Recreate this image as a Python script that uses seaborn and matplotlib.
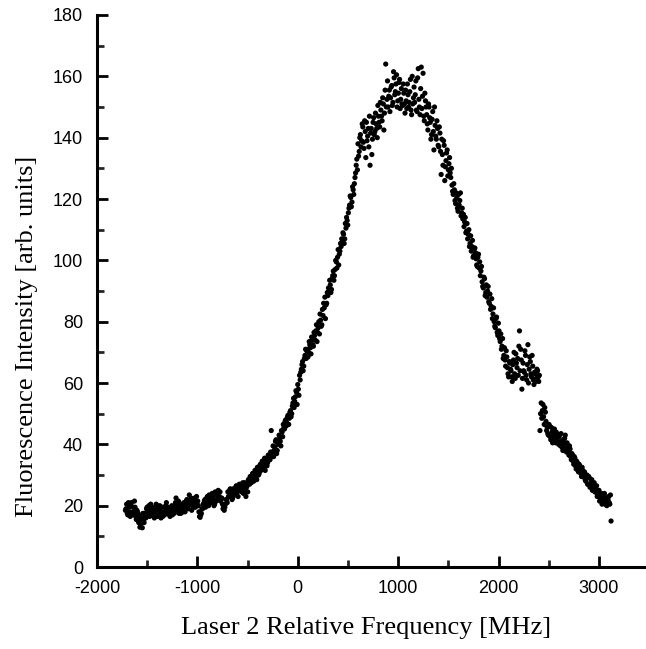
import matplotlib
matplotlib.use("Agg")
import matplotlib.pyplot as plt
import seaborn as sns
import pandas as pd
from matplotlib.ticker import MultipleLocator

# sweep 1
freq_mhz = [
    -1716, -1704, -1692, -1680, -1668, -1656, -1644, -1632, -1620, -1608,
    -1596, -1584, -1572, -1560, -1548, -1536, -1524, -1512, -1500, -1488,
    -1476, -1464, -1452, -1440, -1428, -1416, -1404, -1392, -1380, -1368,
    -1356, -1344, -1332, -1320, -1308, -1296, -1284, -1272, -1260, -1248,
    -1236, -1224, -1212, -1200, -1188, -1176, -1164, -1152, -1140, -1128,
    -1116, -1104, -1092, -1080, -1068, -1056, -1044, -1032, -1020, -1008,
    -996, -984, -972, -960, -948, -936, -924, -912, -900, -888,
    -876, -864, -852, -840, -828, -816, -804, -792, -780, -768,
    -756, -744, -732, -720, -708, -696, -684, -672, -660, -648,
    -636, -624, -612, -600, -588, -576, -564, -552, -540, -528,
    -516, -504, -492, -480, -468, -456, -444, -432, -420, -408,
    -396, -384, -372, -360, -348, -336, -324, -312, -300, -288,
    -276, -264, -252, -240, -228, -216, -204, -192, -180, -168,
    -156, -144, -132, -120, -108, -96, -84, -72, -60, -48,
    -36, -24, -12, 0, 12, 24, 36, 48, 60, 72,
    84, 96, 108, 120, 132, 144, 156, 168, 180, 192,
    204, 216, 228, 240, 252, 264, 276, 288, 300, 312,
    324, 336, 348, 360, 372, 384, 396, 408, 420, 432,
    444, 456, 468, 480, 492, 504, 516, 528, 540, 552,
    564, 576, 588, 600, 612, 624, 636, 648, 660, 672,
    684, 696, 708, 720, 732, 744, 756, 768, 780, 792,
    804, 816, 828, 840, 852, 864, 876, 888, 900, 912,
    924, 936, 948, 960, 972, 984, 996, 1008, 1020, 1032,
    1044, 1056, 1068, 1080, 1092, 1104, 1116, 1128, 1140, 1152,
    1164, 1176, 1188, 1200, 1212, 1224, 1236, 1248, 1260, 1272,
    1284, 1296, 1308, 1320, 1332, 1344, 1356, 1368, 1380, 1392,
    1404, 1416, 1428, 1440, 1452, 1464, 1476, 1488, 1500, 1512,
    1524, 1536, 1548, 1560, 1572, 1584, 1596, 1608, 1620, 1632,
    1644, 1656, 1668, 1680, 1692, 1704, 1716, 1728, 1740, 1752,
    1764, 1776, 1788, 1800, 1812, 1824, 1836, 1848, 1860, 1872,
    1884, 1896, 1908, 1920, 1932, 1944, 1956, 1968, 1980, 1992,
    2004, 2016, 2028, 2040, 2052, 2064, 2076, 2088, 2100, 2112,
    2124, 2136, 2148, 2160, 2172, 2184, 2196, 2208, 2220, 2232,
    2244, 2256, 2268, 2280, 2292, 2304, 2316, 2328, 2340, 2352,
    2364, 2376, 2388, 2400, 2412, 2424, 2436, 2448, 2460, 2472,
    2484, 2496, 2508, 2520, 2532, 2544, 2556, 2568, 2580, 2592,
    2604, 2616, 2628, 2640, 2652, 2664, 2676, 2688, 2700, 2712,
    2724, 2736, 2748, 2760, 2772, 2784, 2796, 2808, 2820, 2832,
    2844, 2856, 2868, 2880, 2892, 2904, 2916, 2928, 2940, 2952,
    2964, 2976, 2988, 3000, 3012, 3024, 3036, 3048, 3060, 3072,
    3084, 3096, 3108, 3120,
]

intensity = [
    18.5, 20.5, 17.0, 19.5, 16.5, 21.0, 18.0, 17.5, 19.5, 15.5,
    18.0, 14.5, 13.0, 16.0, 12.8, 15.5, 17.5, 16.0, 19.5, 18.0,
    16.5, 20.5, 17.5, 19.0, 16.0, 18.5, 20.0, 17.0, 19.0, 17.5,
    18.0, 16.5, 19.5, 18.0, 21.0, 17.5, 19.0, 16.5, 18.0, 17.0,
    19.5, 20.0, 22.5, 18.5, 21.5, 19.0, 17.5, 20.5, 18.0, 19.5,
    20.0, 22.0, 19.0, 23.5, 20.5, 18.5, 22.0, 21.0, 19.5, 23.0,
    21.5, 18.0, 16.2, 17.5, 19.0, 20.5, 22.0, 21.0, 23.0, 20.0,
    22.5, 21.0, 24.0, 22.0, 20.5, 23.5, 22.0, 25.0, 23.0, 21.5,
    22.5, 19.0, 18.5, 20.5, 22.0, 24.5, 23.0, 25.5, 24.0, 22.5,
    25.0, 23.5, 26.5, 24.5, 26.0, 25.0, 27.0, 25.5, 24.0, 27.5,
    23.0, 26.5, 28.5, 27.0, 29.5, 28.0, 30.5, 29.0, 31.0, 28.5,
    32.0, 30.5, 33.5, 32.0, 34.5, 33.0, 31.5, 35.0, 34.0, 36.0,
    35.0, 44.5, 37.5, 36.0, 39.0, 41.5, 38.0, 40.5, 42.0, 39.5,
    44.0, 46.5, 45.0, 48.0, 47.0, 49.5, 48.5, 51.0, 50.0, 53.5,
    52.0, 55.5, 57.0, 59.5, 56.0, 61.0, 64.5, 67.0, 65.5, 69.0,
    68.0, 71.0, 70.0, 72.5, 69.5, 74.0, 72.0, 75.5, 77.0, 73.5,
    78.0, 76.0, 80.5, 79.0, 82.0, 84.5, 81.0, 86.0, 88.5, 90.0,
    92.0, 90.5, 95.0, 93.5, 97.0, 99.5, 101.0, 98.5, 103.0, 104.5,
    106.0, 108.5, 107.0, 110.5, 113.0, 115.5, 118.0, 120.5, 119.0, 123.0,
    125.0, 128.5, 133.0, 138.0, 135.5, 141.0, 139.0, 143.5, 136.5, 142.0,
    145.0, 140.5, 137.0, 131.0, 143.0, 139.5, 146.5, 142.0, 144.5, 140.0,
    147.0, 143.5, 149.0, 145.5, 151.0, 148.0, 164.0, 152.5, 150.0, 155.5,
    153.0, 157.0, 151.5, 159.5, 155.0, 160.5, 152.0, 158.0, 149.5, 156.0,
    150.5, 154.5, 148.0, 152.0, 157.5, 150.0, 155.0, 149.0, 160.0, 153.0,
    151.5, 158.5, 148.5, 162.5, 150.0, 156.0, 149.5, 161.0, 145.5, 152.0,
    147.5, 142.5, 150.0, 145.0, 141.0, 148.5, 136.0, 144.0, 139.5, 143.0,
    137.0, 141.5, 128.0, 134.5, 139.0, 126.0, 132.5, 136.0, 129.5, 133.5,
    127.0, 124.5, 121.5, 123.0, 118.5, 120.5, 116.0, 118.0, 122.0, 115.5,
    113.5, 111.0, 114.0, 109.5, 107.0, 110.0, 105.5, 103.0, 106.5, 101.5,
    104.0, 100.5, 98.0, 102.0, 99.5, 96.5, 93.0, 91.0, 94.0, 89.5,
    88.0, 91.5, 86.0, 84.0, 87.5, 82.5, 80.0, 78.0, 81.5, 75.5,
    77.0, 73.5, 71.0, 74.5, 69.0, 67.5, 70.5, 65.0, 62.0, 66.5,
    64.0, 60.5, 67.5, 63.0, 69.5, 65.0, 62.5, 77.0, 71.0, 58.0,
    66.5, 63.5, 69.0, 61.0, 72.5, 64.5, 67.0, 62.0, 65.5, 59.5,
    63.0, 61.5, 64.0, 60.5, 44.5, 53.5, 51.0, 49.0, 52.0, 47.5,
    45.5, 43.0, 46.0, 41.5, 44.0, 42.0, 45.0, 40.5, 43.5, 41.0,
    42.5, 39.5, 41.0, 38.0, 40.0, 43.0, 37.5, 39.0, 36.5, 38.5,
    35.0, 36.5, 33.5, 35.5, 32.0, 34.0, 31.0, 33.0, 30.5, 32.5,
    29.5, 31.0, 28.0, 30.0, 27.0, 29.0, 26.5, 28.5, 25.5, 27.5,
    24.5, 26.5, 23.5, 25.0, 22.5, 24.0, 21.5, 23.5, 20.5, 22.5,
    21.5, 23.0, 20.5, 15.0,
]

# sweep 2 (interleaved readings)
freq_mhz_b = [
    -1710, -1698, -1686, -1674, -1662, -1650, -1638, -1626, -1614, -1602,
    -1590, -1578, -1566, -1554, -1542, -1530, -1518, -1506, -1494, -1482,
    -1470, -1458, -1446, -1434, -1422, -1410, -1398, -1386, -1374, -1362,
    -1350, -1338, -1326, -1314, -1302, -1290, -1278, -1266, -1254, -1242,
    -1230, -1218, -1206, -1194, -1182, -1170, -1158, -1146, -1134, -1122,
    -1110, -1098, -1086, -1074, -1062, -1050, -1038, -1026, -1014, -1002,
    -990, -978, -966, -954, -942, -930, -918, -906, -894, -882,
    -870, -858, -846, -834, -822, -810, -798, -786, -774, -762,
    -750, -738, -726, -714, -702, -690, -678, -666, -654, -642,
    -630, -618, -606, -594, -582, -570, -558, -546, -534, -522,
    -510, -498, -486, -474, -462, -450, -438, -426, -414, -402,
    -390, -378, -366, -354, -342, -330, -318, -306, -294, -282,
    -270, -258, -246, -234, -222, -210, -198, -186, -174, -162,
    -150, -138, -126, -114, -102, -90, -78, -66, -54, -42,
    -30, -18, -6, 6, 18, 30, 42, 54, 66, 78,
    90, 102, 114, 126, 138, 150, 162, 174, 186, 198,
    210, 222, 234, 246, 258, 270, 282, 294, 306, 318,
    330, 342, 354, 366, 378, 390, 402, 414, 426, 438,
    450, 462, 474, 486, 498, 510, 522, 534, 546, 558,
    570, 582, 594, 606, 618, 630, 642, 654, 666, 678,
    690, 702, 714, 726, 738, 750, 762, 774, 786, 798,
    810, 822, 834, 846, 858, 870, 882, 894, 906, 918,
    930, 942, 954, 966, 978, 990, 1002, 1014, 1026, 1038,
    1050, 1062, 1074, 1086, 1098, 1110, 1122, 1134, 1146, 1158,
    1170, 1182, 1194, 1206, 1218, 1230, 1242, 1254, 1266, 1278,
    1290, 1302, 1314, 1326, 1338, 1350, 1362, 1374, 1386, 1398,
    1410, 1422, 1434, 1446, 1458, 1470, 1482, 1494, 1506, 1518,
    1530, 1542, 1554, 1566, 1578, 1590, 1602, 1614, 1626, 1638,
    1650, 1662, 1674, 1686, 1698, 1710, 1722, 1734, 1746, 1758,
    1770, 1782, 1794, 1806, 1818, 1830, 1842, 1854, 1866, 1878,
    1890, 1902, 1914, 1926, 1938, 1950, 1962, 1974, 1986, 1998,
    2010, 2022, 2034, 2046, 2058, 2070, 2082, 2094, 2106, 2118,
    2130, 2142, 2154, 2166, 2178, 2190, 2202, 2214, 2226, 2238,
    2250, 2262, 2274, 2286, 2298, 2310, 2322, 2334, 2346, 2358,
    2370, 2382, 2394, 2406, 2418, 2430, 2442, 2454, 2466, 2478,
    2490, 2502, 2514, 2526, 2538, 2550, 2562, 2574, 2586, 2598,
    2610, 2622, 2634, 2646, 2658, 2670, 2682, 2694, 2706, 2718,
    2730, 2742, 2754, 2766, 2778, 2790, 2802, 2814, 2826, 2838,
    2850, 2862, 2874, 2886, 2898, 2910, 2922, 2934, 2946, 2958,
    2970, 2982, 2994, 3006, 3018, 3030, 3042, 3054, 3066, 3078,
    3090, 3102, 3114,
]

intensity_b = [
    19.0, 17.5, 21.0, 18.0, 20.0, 17.0, 19.5, 21.5, 16.5, 18.5,
    16.0, 17.0, 14.0, 15.0, 17.5, 14.5, 16.5, 19.0, 17.0, 20.0,
    18.5, 17.0, 19.5, 16.5, 18.0, 20.5, 16.5, 18.5, 20.0, 16.0,
    19.5, 17.5, 17.0, 20.0, 18.5, 19.5, 17.0, 18.5, 20.0, 18.5,
    17.5, 21.0, 19.0, 20.5, 17.5, 20.0, 18.5, 19.0, 21.0, 18.0,
    21.5, 19.5, 20.5, 21.5, 22.5, 20.0, 19.5, 22.5, 21.5, 20.5,
    20.0, 16.5, 17.0, 19.0, 20.5, 21.5, 19.5, 22.5, 21.5, 23.5,
    21.0, 23.0, 22.5, 20.0, 24.5, 21.5, 23.5, 22.5, 24.5, 22.0,
    20.5, 20.0, 19.5, 22.0, 21.0, 23.0, 25.0, 23.5, 22.0, 25.5,
    24.0, 26.0, 25.0, 23.0, 27.0, 26.5, 24.5, 27.5, 26.0, 25.0,
    26.0, 24.5, 27.5, 29.5, 27.5, 30.5, 28.0, 31.5, 29.5, 32.5,
    30.0, 33.0, 31.5, 34.5, 32.0, 35.5, 34.0, 33.0, 36.5, 35.0,
    37.5, 36.0, 39.5, 38.0, 41.0, 37.0, 40.0, 43.0, 41.0, 44.5,
    42.5, 45.5, 47.5, 46.0, 49.0, 46.5, 50.5, 49.0, 52.5, 55.0,
    54.0, 57.5, 53.0, 58.0, 62.5, 63.5, 66.0, 64.0, 68.0, 71.0,
    70.5, 68.5, 73.5, 71.5, 75.0, 72.5, 76.5, 74.0, 79.0, 76.5,
    80.0, 82.5, 78.5, 84.0, 86.0, 88.0, 85.5, 89.5, 91.0, 93.5,
    89.5, 94.0, 96.5, 95.0, 100.0, 97.5, 103.5, 102.0, 105.5, 107.0,
    109.0, 105.5, 112.0, 114.0, 111.5, 117.0, 121.0, 117.5, 124.0, 121.5,
    127.0, 131.0, 129.5, 134.0, 140.0, 137.0, 144.5, 138.5, 145.5, 133.5,
    139.0, 143.0, 147.0, 141.5, 134.5, 145.0, 141.0, 148.0, 143.0, 150.5,
    145.0, 151.5, 147.0, 153.0, 142.5, 155.5, 150.0, 158.5, 153.5, 148.5,
    156.5, 150.5, 161.5, 154.0, 157.5, 150.0, 154.5, 159.0, 152.5, 151.0,
    157.5, 151.0, 155.5, 149.5, 154.0, 151.5, 159.0, 147.5, 151.0, 156.5,
    154.0, 149.0, 159.5, 152.5, 147.5, 163.0, 153.5, 147.0, 154.5, 150.0,
    144.5, 151.0, 146.5, 139.5, 146.0, 142.0, 150.0, 140.5, 145.5, 137.5,
    143.5, 135.5, 139.5, 131.0, 137.5, 130.5, 135.0, 127.5, 131.5, 128.5,
    130.0, 122.5, 125.0, 119.5, 122.0, 117.0, 121.5, 119.5, 114.5, 117.0,
    115.0, 112.5, 109.0, 112.0, 108.5, 104.5, 108.0, 104.5, 101.0, 104.0,
    102.5, 98.5, 101.0, 97.5, 95.0, 98.0, 91.5, 94.5, 88.5, 92.0,
    90.0, 86.5, 89.0, 85.0, 81.0, 84.5, 78.5, 81.0, 76.5, 79.5,
    74.5, 76.0, 72.0, 68.0, 71.5, 65.5, 68.5, 63.0, 67.0, 64.5,
    62.0, 66.0, 70.0, 61.5, 66.5, 68.0, 72.0, 64.0, 67.5, 61.5,
    64.0, 70.5, 62.5, 66.0, 60.0, 68.5, 63.0, 69.0, 61.0, 63.5,
    60.5, 64.5, 62.0, 62.5, 50.0, 48.5, 53.0, 46.5, 50.5, 44.5,
    43.5, 46.5, 42.5, 45.5, 40.5, 43.0, 41.5, 44.0, 42.5, 40.0,
    40.5, 43.5, 39.0, 41.5, 42.0, 38.5, 40.5, 37.5, 39.5, 36.0,
    37.0, 34.5, 36.0, 33.0, 34.5, 31.5, 33.5, 32.0, 29.5, 31.5,
    30.5, 28.5, 29.5, 27.0, 29.5, 26.0, 27.5, 25.0, 27.0, 24.5,
    25.5, 23.0, 24.5, 21.5, 23.5, 20.5, 22.5, 24.0, 21.5, 20.0,
    22.0, 21.0, 23.5,
]

x_label = "Laser 2 Relative Frequency [MHz]"
y_label = "Fluorescence Intensity [arb. units]"

sns.set_style("ticks")
plt.rcParams["font.family"] = ["Liberation Sans", "DejaVu Sans"]
plt.rcParams["axes.unicode_minus"] = False

df = pd.concat([
    pd.DataFrame({"freq": freq_mhz, "intensity": intensity}),
    pd.DataFrame({"freq": freq_mhz_b, "intensity": intensity_b}),
], ignore_index=True)

fig = plt.figure(figsize=(6.46, 6.49), dpi=100)
ax = fig.add_axes([0.150, 0.1263, 0.850, 0.8506])

sns.scatterplot(data=df, x="freq", y="intensity", ax=ax, color="black",
                s=14, linewidth=0, edgecolor="none", legend=False)

ax.set_xlim(-2000, 3468)
ax.set_ylim(0, 180)
ax.xaxis.set_major_locator(MultipleLocator(1000))
ax.xaxis.set_minor_locator(MultipleLocator(500))
ax.yaxis.set_major_locator(MultipleLocator(20))
ax.yaxis.set_minor_locator(MultipleLocator(10))

for side in ["top", "right"]:
    ax.spines[side].set_visible(False)
for side in ["left", "bottom"]:
    ax.spines[side].set_linewidth(2.2)
    ax.spines[side].set_color("black")

ax.tick_params(which="major", direction="in", length=8, width=2, labelsize=13,
               colors="black")
ax.tick_params(which="minor", direction="in", length=5, width=2)
ax.tick_params(axis="y", which="major", pad=10)
ax.tick_params(axis="x", which="major", pad=9)

serif = ["Liberation Serif", "DejaVu Serif"]
ax.set_xlabel(x_label, fontsize=19, family=serif, color="black")
ax.set_ylabel(y_label, fontsize=19, family=serif, color="black")
ax.xaxis.set_label_coords(0.49, -0.090)
ax.yaxis.set_label_coords(-0.108, 0.418)

fig.savefig("out.png", dpi=100)
